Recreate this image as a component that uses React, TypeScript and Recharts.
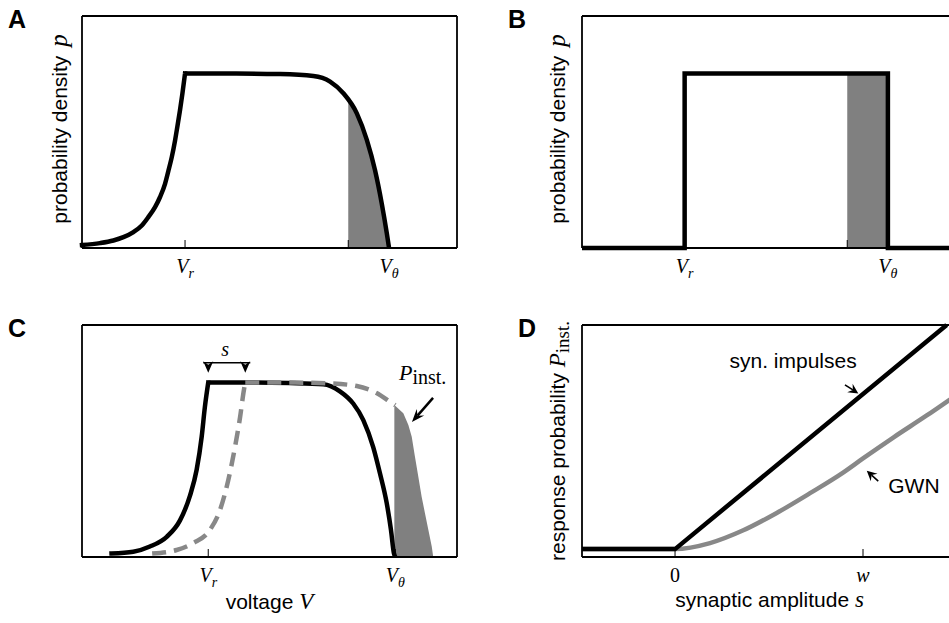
import React from 'react';
import { ComposedChart, Line, Area, XAxis, YAxis, ReferenceLine, ReferenceDot } from 'recharts';

const SANS = '"Liberation Sans", Arial, Helvetica, sans-serif';
const SERIF = '"Liberation Serif", "Times New Roman", serif';

// ---------------- data (voltage in units where V_r = 0, V_theta = 1) ----------------
// Panel A: smooth membrane-potential density
const A_RISE_V = [-0.505, -0.417, -0.351, -0.302, -0.253, -0.212, -0.18, -0.147, -0.123, -0.098, -0.082, -0.065, -0.049, -0.038, -0.025, -0.013, 0];
const A_RISE_P = [0.017, 0.028, 0.043, 0.062, 0.091, 0.129, 0.177, 0.234, 0.291, 0.368, 0.44, 0.521, 0.616, 0.693, 0.788, 0.884, 1.0];
const A_FALL_V = [0, 0.25, 0.466, 0.629, 0.711, 0.776, 0.842, 0.891, 0.931, 0.964, 0.989, 1.0];
const A_FALL_P = [1.0, 1.0, 0.997, 0.986, 0.954, 0.887, 0.772, 0.62, 0.447, 0.256, 0.084, 0];
const A_SHADE_V = [0.8, 0.842, 0.891, 0.931, 0.964, 0.989, 1.0];
const A_SHADE_P = [0.85, 0.772, 0.62, 0.447, 0.256, 0.084, 0];

// Panel B: uniform density
const B_V = [-0.505, 0, 0, 1, 1, 1.34];
const B_P = [0, 0, 1, 1, 0, 0];
const B_SHADE_V = [0.8, 1.0];
const B_SHADE_P = [1, 1];

// Panel C: density before (solid) and after (dashed) a synaptic kick of size s
const C_RISE_V = [-0.517, -0.401, -0.312, -0.222, -0.151, -0.098, -0.062, -0.035, -0.018, 0];
const C_RISE_P = [0.02, 0.03, 0.06, 0.116, 0.21, 0.35, 0.5, 0.69, 0.86, 1.0];
const C_FALL_V = [0, 0.25, 0.437, 0.615, 0.704, 0.775, 0.829, 0.882, 0.918, 0.954, 0.977, 0.993, 1.0];
const C_FALL_P = [1.0, 1.0, 0.997, 0.99, 0.95, 0.88, 0.785, 0.63, 0.48, 0.31, 0.155, 0.02, 0];
const C_DASH_RISE_V = [-0.3, -0.169, -0.08, 0.009, 0.063, 0.107, 0.143, 0.17, 0.191, 0.198];
const C_DASH_RISE_P = [0.02, 0.04, 0.08, 0.155, 0.27, 0.44, 0.63, 0.8, 0.96, 1.0];
const C_DASH_FALL_V = [0.198, 0.45, 0.651, 0.794, 0.9, 0.972, 1.0];
const C_DASH_FALL_P = [1.0, 1.0, 0.995, 0.98, 0.94, 0.89, 0.87];
const C_SHADE_V = [0.995, 1.043, 1.07, 1.088, 1.105, 1.123, 1.141, 1.159, 1.177, 1.195, 1.203];
const C_SHADE_P = [0.872, 0.824, 0.757, 0.69, 0.576, 0.461, 0.346, 0.25, 0.155, 0.06, 0.0];

// Panel D: response probability vs synaptic amplitude (w = 1)
const D_SYN_S = [-0.495, 0, 1.445];
const D_SYN_P = [0.034, 0.034, 1.0];
const D_GWN_S = [-0.495, 0, 0.186, 0.363, 0.541, 0.718, 0.896, 1.0, 1.161, 1.339, 1.5];
const D_GWN_P = [0.034, 0.034, 0.06, 0.115, 0.19, 0.275, 0.365, 0.425, 0.515, 0.61, 0.7];

// ticks and tick labels
const AB_TICKS = [0, 0.8, 1];
const AB_TICK_LABELS = [{ base: 'V', sub: 'r' }, null, { base: 'V', sub: 'θ' }];
const C_TICKS = [0, 1];
const C_TICK_LABELS = [{ base: 'V', sub: 'r' }, { base: 'V', sub: 'θ' }];
const D_TICKS = [0, 1];
const D_TICK_LABELS = [{ base: '0', italic: false }, { base: 'w' }];

const pts = (v: number[], p: number[]) => v.map((x, i) => ({ v: x, p: p[i] }));

// ---------------- drawing helpers ----------------
const AXIS_LINE = { stroke: '#000', strokeWidth: 1.8 };
const TICK_LEN = 8;
const SHADE = '#808080';
const GREY = '#888888';
const LW = 4.5;

function MathText({ x, y, spec, size, anchor = 'middle' }: any) {
  return (
    <text x={x} y={y} textAnchor={anchor} fontFamily={SERIF} fontSize={size} fill="#000">
      <tspan fontStyle={spec.italic === false ? 'normal' : 'italic'}>{spec.base}</tspan>
      {spec.sub ? (
        <tspan fontSize={size * 0.7} dy={size * 0.25} fontStyle={spec.subItalic === false ? 'normal' : 'italic'}>
          {spec.sub}
        </tspan>
      ) : null}
    </text>
  );
}

function BottomTick(props: any) {
  const { x, y, payload, ticks, labels } = props;
  const i = ticks.indexOf(payload.value);
  const spec = i >= 0 ? labels[i] : null;
  return (
    <g>
      <line x1={x} x2={x} y1={y} y2={y - TICK_LEN} stroke="#000" strokeWidth={1} />
      {spec ? <MathText x={x} y={y + 25} spec={spec} size={20} /> : null}
    </g>
  );
}

function TopTick(props: any) {
  const { x, y } = props;
  return <line x1={x} x2={x} y1={y} y2={y + TICK_LEN} stroke="#000" strokeWidth={1} />;
}

function arrowShape(headLen: number, headW: number, lw: number) {
  return (props: any) => {
    const { x1, y1, x2, y2 } = props;
    const dx = x2 - x1;
    const dy = y2 - y1;
    const L = Math.hypot(dx, dy) || 1;
    const ux = dx / L;
    const uy = dy / L;
    const nx = -uy;
    const ny = ux;
    const bx = x2 - ux * headLen;
    const by = y2 - uy * headLen;
    const kx = x2 - ux * headLen * 0.65;
    const ky = y2 - uy * headLen * 0.65;
    return (
      <g>
        <line x1={x1} y1={y1} x2={kx} y2={ky} stroke="#000" strokeWidth={lw} />
        <polygon
          points={`${x2},${y2} ${bx + nx * headW},${by + ny * headW} ${kx},${ky} ${bx - nx * headW},${by - ny * headW}`}
          fill="#000"
        />
      </g>
    );
  };
}

function bracketShape(props: any) {
  const { x1, y1, x2 } = props;
  const head = (x: number) => `${x},${y1 + 10} ${x - 5},${y1 - 1.5} ${x},${y1 + 2} ${x + 5},${y1 - 1.5}`;
  return (
    <g>
      <line x1={x1 - 5} x2={x2 + 5} y1={y1} y2={y1} stroke="#000" strokeWidth={1.5} />
      <polygon points={head(x1)} fill="#000" />
      <polygon points={head(x2)} fill="#000" />
    </g>
  );
}

function yTitle(parts: React.ReactNode, off: number, shift = 0) {
  return (p: any) => {
    const vb = p.viewBox || {};
    const x = (vb.x ?? 0) + (vb.width ?? 0) - off;
    const y = (vb.y ?? 0) + (vb.height ?? 0) / 2 + shift;
    return (
      <text transform={`translate(${x},${y}) rotate(-90)`} textAnchor="middle" fontFamily={SANS} fontSize={21} fill="#000">
        {parts}
      </text>
    );
  };
}

function xTitle(parts: React.ReactNode, off: number) {
  return (p: any) => {
    const vb = p.viewBox || {};
    const x = (vb.x ?? 0) + (vb.width ?? 0) / 2;
    const y = (vb.y ?? 0) + off;
    return (
      <text x={x} y={y} textAnchor="middle" fontFamily={SANS} fontSize={21} fill="#000">
        {parts}
      </text>
    );
  };
}

function Panel({ width, height, margin, xDomain, yDomain, ticks, labels, yLabel, xLabel, children }: any) {
  return (
    <ComposedChart width={width} height={height} margin={margin}>
      <XAxis
        xAxisId={0}
        type="number"
        dataKey="v"
        domain={xDomain}
        ticks={ticks}
        interval={0}
        height={1}
        tickSize={0}
        tickMargin={0}
        tickLine={false}
        axisLine={AXIS_LINE}
        tick={(p: any) => <BottomTick {...p} ticks={ticks} labels={labels} />}
        label={xLabel}
      />
      <XAxis
        xAxisId="top"
        orientation="top"
        type="number"
        dataKey="v"
        domain={xDomain}
        ticks={ticks}
        interval={0}
        height={1}
        tickSize={0}
        tickMargin={0}
        tickLine={false}
        axisLine={AXIS_LINE}
        tick={(p: any) => <TopTick {...p} />}
      />
      <YAxis yAxisId={0} type="number" domain={yDomain} width={1} tick={false} tickLine={false} axisLine={AXIS_LINE} label={yLabel} />
      <YAxis yAxisId="right" orientation="right" type="number" domain={yDomain} width={1} tick={false} tickLine={false} axisLine={AXIS_LINE} />
      {children}
    </ComposedChart>
  );
}

const pLabel = (
  <>
    <tspan>probability density </tspan>
    <tspan fontFamily={SERIF} fontStyle="italic" fontSize={25} dx={3}>p</tspan>
  </>
);

const LETTERS = [
  { t: 'A', x: 8, y: 28 },
  { t: 'B', x: 508, y: 28 },
  { t: 'C', x: 8, y: 337 },
  { t: 'D', x: 518, y: 337 },
];

export default function App() {
  return (
    <div style={{ position: 'fixed', left: 0, top: 0, width: 949, height: 623, overflow: 'hidden', background: '#fff' }}>
      {/* Panel A */}
      <div style={{ position: 'absolute', left: 0, top: 0 }}>
        <Panel
          width={474}
          height={300}
          margin={{ top: 15, right: 16, bottom: 51, left: 81 }}
          xDomain={[-0.505, 1.333]}
          yDomain={[0, 1.33]}
          ticks={AB_TICKS}
          labels={AB_TICK_LABELS}
          yLabel={yTitle(pLabel, 15, -3)}
        >
          <Area data={pts(A_SHADE_V, A_SHADE_P)} dataKey="p" type="monotone" stroke="none" fill={SHADE} fillOpacity={1} isAnimationActive={false} />
          <Line data={pts(A_RISE_V, A_RISE_P)} dataKey="p" type="monotone" stroke="#000" strokeWidth={LW} strokeLinecap="square" dot={false} activeDot={false} isAnimationActive={false} />
          <Line data={pts(A_FALL_V, A_FALL_P)} dataKey="p" type="monotone" stroke="#000" strokeWidth={LW} dot={false} activeDot={false} isAnimationActive={false} />
        </Panel>
      </div>

      {/* Panel B */}
      <div style={{ position: 'absolute', left: 474, top: 0 }}>
        <Panel
          width={500}
          height={300}
          margin={{ top: 15, right: 16, bottom: 51, left: 107 }}
          xDomain={[-0.505, 1.333]}
          yDomain={[0, 1.33]}
          ticks={AB_TICKS}
          labels={AB_TICK_LABELS}
          yLabel={yTitle(pLabel, 17, -3)}
        >
          <Area data={pts(B_SHADE_V, B_SHADE_P)} dataKey="p" type="linear" stroke="none" fill={SHADE} fillOpacity={1} isAnimationActive={false} />
          <Line data={pts(B_V, B_P)} dataKey="p" type="linear" stroke="#000" strokeWidth={LW} strokeLinejoin="miter" dot={false} activeDot={false} isAnimationActive={false} />
        </Panel>
      </div>

      {/* Panel C */}
      <div style={{ position: 'absolute', left: 0, top: 300 }}>
        <Panel
          width={474}
          height={323}
          margin={{ top: 24, right: 16, bottom: 65, left: 81 }}
          xDomain={[-0.675, 1.33]}
          yDomain={[0, 1.33]}
          ticks={C_TICKS}
          labels={C_TICK_LABELS}
          xLabel={xTitle(
            <>
              <tspan>voltage </tspan>
              <tspan fontFamily={SERIF} fontStyle="italic" fontSize={23}>V</tspan>
            </>,
            52
          )}
        >
          <Area data={pts(C_SHADE_V, C_SHADE_P)} dataKey="p" type="linear" stroke="none" fill={SHADE} fillOpacity={1} isAnimationActive={false} />
          <Line data={pts(C_RISE_V, C_RISE_P)} dataKey="p" type="monotone" stroke="#000" strokeWidth={LW} strokeLinecap="square" dot={false} activeDot={false} isAnimationActive={false} />
          <Line data={pts(C_FALL_V, C_FALL_P)} dataKey="p" type="monotone" stroke="#000" strokeWidth={LW} dot={false} activeDot={false} isAnimationActive={false} />
          <Line data={pts(C_DASH_RISE_V, C_DASH_RISE_P)} dataKey="p" type="monotone" stroke={GREY} strokeWidth={LW} strokeDasharray="14 8" dot={false} activeDot={false} isAnimationActive={false} />
          <Line data={pts(C_DASH_FALL_V, C_DASH_FALL_P)} dataKey="p" type="monotone" stroke={GREY} strokeWidth={LW} strokeDasharray="14 8" dot={false} activeDot={false} isAnimationActive={false} />
          <ReferenceLine segment={[{ x: 0, y: 1.114 }, { x: 0.198, y: 1.114 }]} shape={bracketShape} />
          <ReferenceDot
            x={0.09}
            y={1.153}
            r={0}
            shape={(p: any) => (
              <text x={p.cx} y={p.cy} textAnchor="middle" fontFamily={SERIF} fontStyle="italic" fontSize={20} fill="#000">s</text>
            )}
          />
          <ReferenceDot
            x={1.02}
            y={1.015}
            r={0}
            shape={(p: any) => (
              <text x={p.cx} y={p.cy} textAnchor="start" fontFamily={SERIF} fontSize={22} fill="#000">
                <tspan fontStyle="italic">P</tspan>
                <tspan fontSize={20} dy={4}>inst.</tspan>
              </text>
            )}
          />
          <ReferenceLine segment={[{ x: 1.202, y: 0.912 }, { x: 1.089, y: 0.774 }]} shape={arrowShape(13, 5, 2.5)} />
        </Panel>
      </div>

      {/* Panel D */}
      <div style={{ position: 'absolute', left: 474, top: 300 }}>
        <Panel
          width={500}
          height={323}
          margin={{ top: 24, right: 16, bottom: 65, left: 107 }}
          xDomain={[-0.495, 1.5]}
          yDomain={[0, 1]}
          ticks={D_TICKS}
          labels={D_TICK_LABELS}
          yLabel={yTitle(
            <>
              <tspan>response probability </tspan>
              <tspan fontFamily={SERIF} fontStyle="italic" fontSize={23}>P</tspan>
              <tspan fontFamily={SERIF} fontSize={19} dy={4}>inst.</tspan>
            </>,
            17
          )}
          xLabel={xTitle(
            <>
              <tspan>synaptic amplitude </tspan>
              <tspan fontFamily={SERIF} fontStyle="italic" fontSize={23}>s</tspan>
            </>,
            50
          )}
        >
          <Line data={pts(D_GWN_S, D_GWN_P)} dataKey="p" type="monotone" stroke={GREY} strokeWidth={LW} dot={false} activeDot={false} isAnimationActive={false} />
          <Line data={pts(D_SYN_S, D_SYN_P)} dataKey="p" type="linear" stroke="#000" strokeWidth={LW} dot={false} activeDot={false} isAnimationActive={false} />
          <ReferenceDot
            x={0.628}
            y={0.815}
            r={0}
            shape={(p: any) => (
              <text x={p.cx} y={p.cy} textAnchor="middle" fontFamily={SANS} fontSize={21} fill="#000">syn. impulses</text>
            )}
          />
          <ReferenceLine segment={[{ x: 0.904, y: 0.742 }, { x: 0.975, y: 0.705 }]} shape={arrowShape(10, 5, 1.6)} />
          <ReferenceDot
            x={1.271}
            y={0.274}
            r={0}
            shape={(p: any) => (
              <text x={p.cx} y={p.cy} textAnchor="middle" fontFamily={SANS} fontSize={21} fill="#000">GWN</text>
            )}
          />
          <ReferenceLine segment={[{ x: 1.081, y: 0.327 }, { x: 1.02, y: 0.372 }]} shape={arrowShape(10, 5, 1.6)} />
        </Panel>
      </div>

      {LETTERS.map((l) => (
        <div
          key={l.t}
          style={{
            position: 'absolute',
            left: l.x,
            top: l.y - 21,
            fontFamily: SANS,
            fontWeight: 'bold',
            fontSize: 25,
            lineHeight: '25px',
            color: '#000',
          }}
        >
          {l.t}
        </div>
      ))}
    </div>
  );
}
